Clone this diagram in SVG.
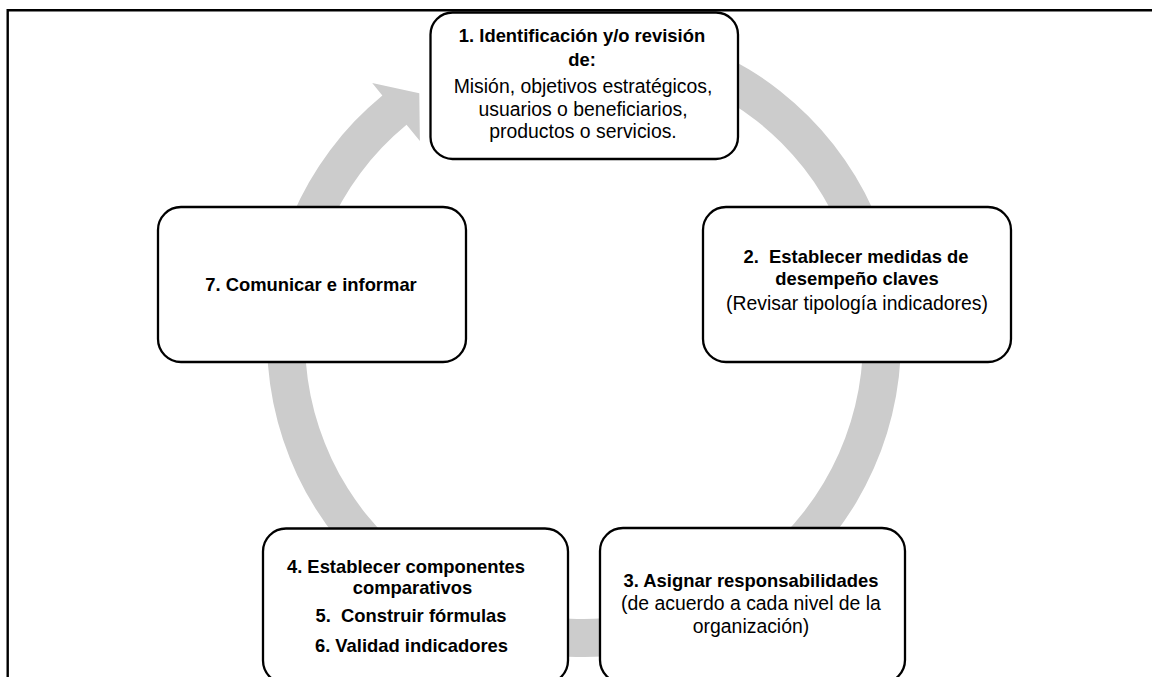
<svg xmlns="http://www.w3.org/2000/svg" width="1152" height="677" viewBox="0 0 1152 677">
<style>
.box{fill:#fff;stroke:#000;stroke-width:2.3}
.t{font-family:"Liberation Sans",Arial,sans-serif;fill:#000;text-anchor:middle;white-space:pre}
.b{font-weight:bold;font-size:18.4px}
.r{font-size:19.4px}
.frame{stroke:#000;stroke-width:2.4;fill:none}
.ring{fill:#CCCCCC;stroke:none}
</style>
<rect width="1152" height="677" fill="#fff"/>
<g id="frame">
<path class="frame" d="M7.7,677 V10.2 H1152"/>
</g>
<g id="connectors">
<path class="ring" d="M528.95,27.82 A317,317 0 1 1 382.36,95.40 L372.2,83.0 L419.3,93.3 L419.9,140.9 L406.53,124.72 A279,279 0 1 0 535.55,65.24 Z"/>
</g>
<g id="node1">
<rect class="box" x="430.5" y="12.5" width="307.5" height="146.5" rx="22"/>
<text class="t b" x="582" y="41.7">1. Identificación y/o revisión</text>
<text class="t b" x="582" y="65.7">de:</text>
<text class="t r" x="583" y="92.7">Misión, objetivos estratégicos,</text>
<text class="t r" x="583" y="116">usuarios o beneficiarios,</text>
<text class="t r" x="583" y="138.3">productos o servicios.</text>
</g>
<g id="node2">
<rect class="box" x="703" y="207" width="308" height="155" rx="23"/>
<text class="t b" x="856" y="262.7">2.  Establecer medidas de</text>
<text class="t b" x="857" y="285">desempeño claves</text>
<text class="t r" x="857" y="310">(Revisar tipología indicadores)</text>
</g>
<g id="node3">
<rect class="box" x="600" y="528" width="305" height="155" rx="23"/>
<text class="t b" x="751" y="587.3">3. Asignar responsabilidades</text>
<text class="t r" x="751" y="610">(de acuerdo a cada nivel de la</text>
<text class="t r" x="751" y="633.3">organización)</text>
</g>
<g id="node4">
<rect class="box" x="263" y="528.5" width="305" height="155" rx="23"/>
<text class="t b" x="406" y="572.7">4. Establecer componentes</text>
<text class="t b" x="412.5" y="594.3">comparativos</text>
<text class="t b" x="411" y="621.7">5.  Construir fórmulas</text>
<text class="t b" x="411.5" y="651.7">6. Validad indicadores</text>
</g>
<g id="node7">
<rect class="box" x="158" y="207" width="308" height="155" rx="23"/>
<text class="t b" x="311" y="290.7">7. Comunicar e informar</text>
</g>
</svg>
